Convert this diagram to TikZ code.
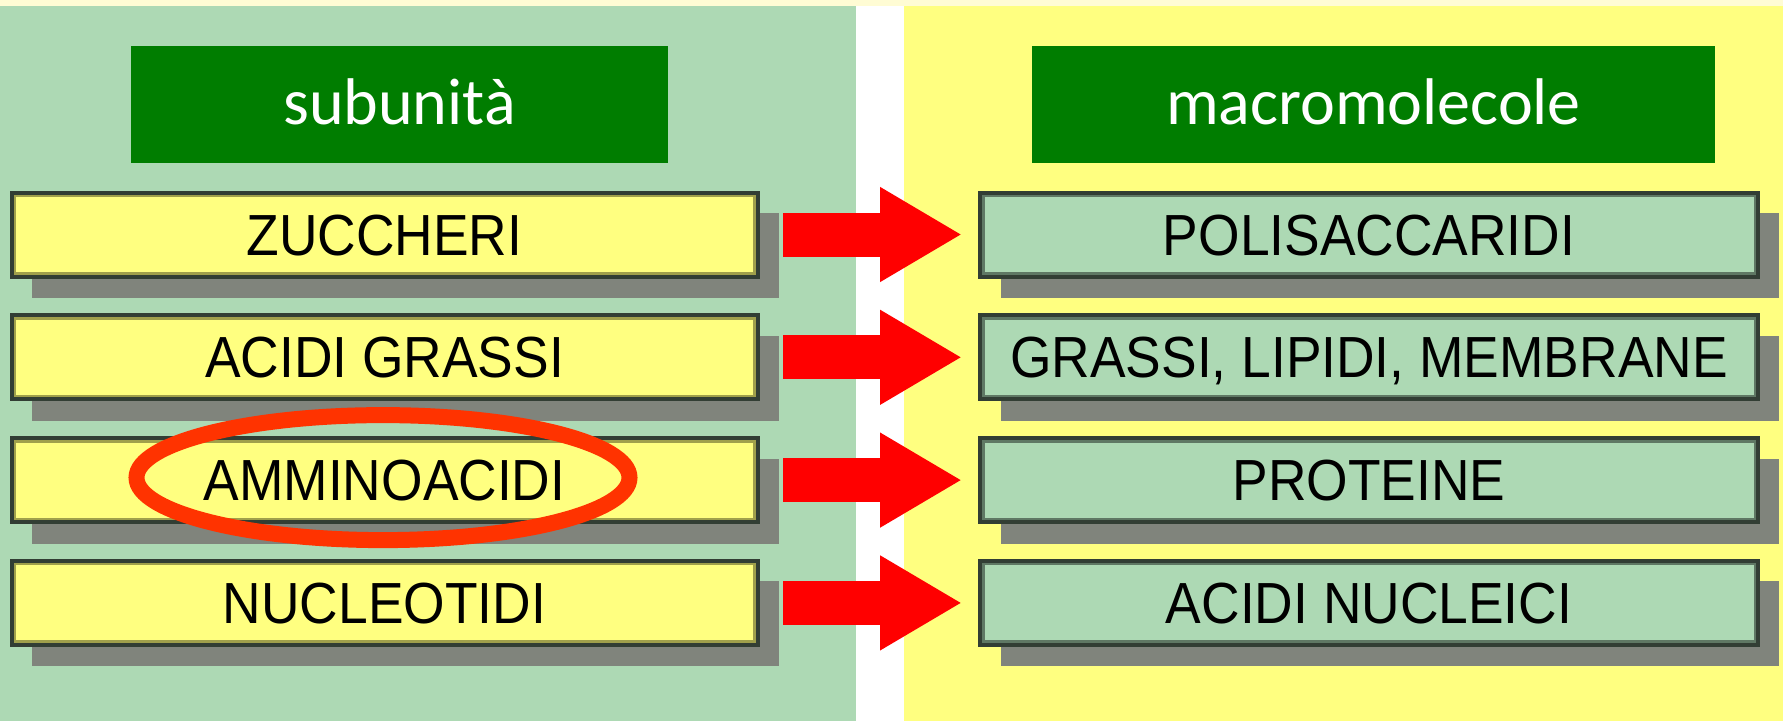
\documentclass[tikz,border=0pt]{standalone}
\usepackage{fontspec}
\newfontfamily\boxfont[FakeStretch=0.92]{Liberation Sans}
\newfontfamily\titlefont{Carlito}
\usetikzlibrary{arrows.meta,shapes.geometric}
\pgfdeclarelayer{bg}
\pgfdeclarelayer{shade}
\pgfsetlayers{bg,shade,main}
\definecolor{panelgreen}{RGB}{173,217,180}
\definecolor{panelyellow}{RGB}{255,255,128}
\definecolor{titlegreen}{RGB}{0,125,0}
\definecolor{cream}{RGB}{255,252,212}
\definecolor{shadowgray}{RGB}{128,132,124}
\definecolor{boxdark}{RGB}{50,62,52}
\definecolor{olivebevel}{RGB}{160,160,75}
\definecolor{greenbevel}{RGB}{95,120,100}
\definecolor{arrowred}{RGB}{255,0,0}
\definecolor{ringred}{RGB}{255,51,0}
\begin{document}
\begin{tikzpicture}[x=1pt,y=-1pt,
  titlebox/.style={fill=titlegreen, inner sep=0pt, outer sep=0pt, minimum height=117pt,
    text=white, font=\titlefont\fontsize{66}{70}\selectfont, text height=49pt, text depth=10pt},
  rowbox/.style={draw=boxdark, line width=4pt, inner sep=0pt, outer sep=0pt, minimum height=84pt,
    font=\boxfont\fontsize{58}{60}\selectfont, text height=41pt, text depth=0pt},
  subbox/.style={rowbox, fill=panelyellow, minimum width=746pt},
  macrobox/.style={rowbox, fill=panelgreen, minimum width=778pt},
  flow/.style={arrowred, line width=44pt, -{Triangle[length=82pt,width=89pt]}},
  ring/.style={draw=ringred, line width=16pt, ellipse, inner sep=0pt,
    minimum width=493pt, minimum height=125pt}
]
\useasboundingbox (0,0) rectangle (1783,721);
\begin{pgfonlayer}{bg}
  \fill[white] (0,0) rectangle (1783,721);
  \fill[cream] (0,0) rectangle (1783,6);
  \fill[panelgreen] (0,6) rectangle (856,721);
  \fill[panelyellow] (904,6) rectangle (1783,721);
\end{pgfonlayer}

\node[titlebox, minimum width=537pt] (t1) at (399.5,104.5) {subunità};
\node[titlebox, minimum width=683pt] (t2) at (1373.5,104.5) {macromolecole};

\foreach \i/\a/\b/\y in {1/ZUCCHERI/POLISACCARIDI/234.5,
                         2/ACIDI GRASSI/{GRASSI, LIPIDI, MEMBRANE}/357.3,
                         3/AMMINOACIDI/PROTEINE/480.1,
                         4/NUCLEOTIDI/ACIDI NUCLEICI/602.9}{
  \node[subbox] (L\i) at (384.5,\y) {\a};
  \node[macrobox] (R\i) at (1369,\y) {\b};
  \draw[olivebevel, line width=2.5pt] ([shift={(3.25,3.25)}]L\i.north west) rectangle ([shift={(-3.25,-3.25)}]L\i.south east);
  \draw[greenbevel, line width=2.5pt] ([shift={(3.25,3.25)}]R\i.north west) rectangle ([shift={(-3.25,-3.25)}]R\i.south east);
  \begin{pgfonlayer}{shade}
    \fill[shadowgray] ([shift={(20.5,20.5)}]L\i.north west) rectangle ([shift={(21.5,21.5)}]L\i.south east);
    \fill[shadowgray] ([shift={(20.5,20.5)}]R\i.north west) rectangle ([shift={(21,21.5)}]R\i.south east);
  \end{pgfonlayer}
  \draw[flow] ([xshift=25.5pt]L\i.east) -- ([xshift=-18pt]R\i.west);
}

\node[ring] (hl) at ([shift={(-1.5,-2.5)}]L3.center) {};
\end{tikzpicture}
\end{document}
